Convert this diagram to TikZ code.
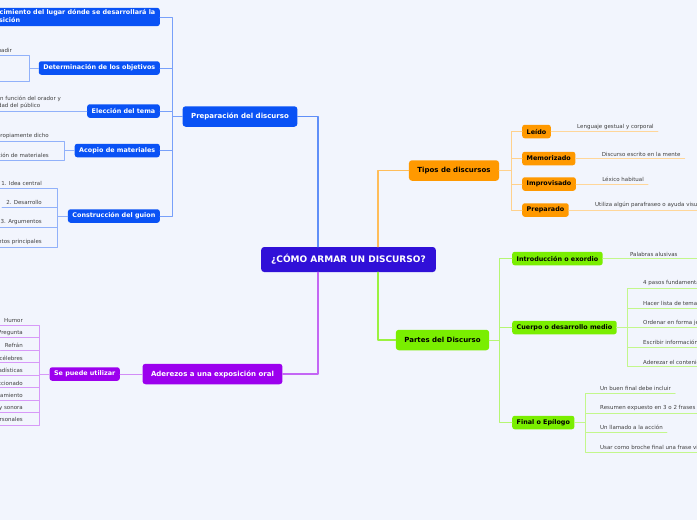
\documentclass[tikz,border=0pt]{standalone}
\usepackage{fontspec}
\setmainfont{DejaVu Sans}
\definecolor{paper}{RGB}{242,245,253}
\definecolor{rootfill}{RGB}{48,16,216}
\definecolor{prepblue}{RGB}{10,82,245}
\definecolor{tipoorange}{RGB}{255,153,0}
\definecolor{aderpurple}{RGB}{156,0,238}
\definecolor{partegreen}{RGB}{122,238,0}
\definecolor{leafgray}{RGB}{64,64,64}

\begin{document}
\begin{tikzpicture}[x=1pt,y=-1pt,line cap=round,line join=round,
  rootbox/.style={fill=rootfill,text=white,rounded corners=3pt,font=\fontsize{9}{10}\selectfont\bfseries,inner xsep=10pt,minimum height=25pt},
  topicbox/.style={rounded corners=3pt,font=\fontsize{7}{8}\selectfont\bfseries,inner xsep=8.5pt,minimum height=20.5pt},
  subbox/.style={rounded corners=2.5pt,font=\fontsize{6.4}{7.8}\selectfont\bfseries,inner xsep=4.5pt,inner ysep=2pt,minimum height=13.5pt},
  leafnote/.style={text=leafgray,font=\fontsize{5.5}{7}\selectfont,inner xsep=4pt,inner ysep=2pt},
  bluenode/.style={fill=prepblue,text=white},
  orangenode/.style={fill=tipoorange,text=black},
  purplenode/.style={fill=aderpurple,text=white},
  greennode/.style={fill=partegreen,text=black},
  trunk/.style={draw=#1,line width=1.3pt},
  branch/.style={draw=#1,line width=1pt},
  twig/.style={draw=#1,line width=.8pt}]
  \useasboundingbox (0,0) rectangle (697,520);
  \fill[paper] (0,0) rectangle (697,520);
  \clip (0,0) rectangle (697,520);

  \node[rootbox] (root) at (348.5,259.5) {¿CÓMO ARMAR UN DISCURSO?};

  \node[topicbox,bluenode] (prep) at (240,116.5) {Preparación del discurso};
  \node[topicbox,orangenode] (tipos) at (454,170.5) {Tipos de discursos};
  \node[topicbox,purplenode] (ader) at (212.5,374) {Aderezos a una exposición oral};
  \node[topicbox,greennode] (partes) at (442.5,340) {Partes del Discurso};

  \draw[trunk=prepblue!65] ([xshift=-30.5pt]root.north) |- (prep.east);
  \draw[trunk=tipoorange!65] ([xshift=29.5pt]root.north) |- (tipos.west);
  \draw[trunk=aderpurple!60] ([xshift=-30.5pt]root.south) |- (ader.east);
  \draw[trunk=partegreen!75] ([xshift=29.5pt]root.south) |- (partes.west);

  \node[subbox,bluenode,anchor=east,align=left] (conoc) at (160,17) {Conocimiento del lugar dónde se desarrollará la\\exposición};
  \node[subbox,bluenode,anchor=east] (objet) at (160,68) {Determinación de los objetivos};
  \node[subbox,bluenode,anchor=east] (tema) at (160,111) {Elección del tema};
  \node[subbox,bluenode,anchor=east] (acopio) at (160,150.5) {Acopio de materiales};
  \node[subbox,bluenode,anchor=east] (guion) at (160,216) {Construcción del guion};
  \foreach \n in {conoc,objet,tema,acopio,guion}
    \draw[branch=prepblue!55] (prep.west) -- ++(-10,0) |- (\n.east);

  \node[leafnote,anchor=south east] (persu) at (16,55) {Persuadir};
  \coordinate (objet2) at (-5,81);
  \foreach \n in {persu.south west,objet2}
    \draw[twig=prepblue!45] (objet.west) -- ++(-9,0) |- (\n);

  \node[leafnote,anchor=south east,align=left] (elegir) at (65,111) {Elegir en función del orador y\\de la edad del público};
  \draw[twig=prepblue!45] (tema.west) -- (elegir.south west);

  \node[leafnote,anchor=south east] (propio) at (53,141) {Material propiamente dicho};
  \node[leafnote,anchor=south east] (selec) at (53,160) {Selección de materiales};
  \foreach \n in {propio,selec}
    \draw[twig=prepblue!45] (acopio.west) -- ++(-10,0) |- (\n.south west);

  \node[leafnote,anchor=south east] (idea) at (46,188) {1. Idea central};
  \node[leafnote,anchor=south east] (desarr) at (46,207) {2. Desarrollo};
  \node[leafnote,anchor=south east] (argum) at (46,227) {3. Argumentos};
  \node[leafnote,anchor=south east] (puntos) at (46,247) {4. Puntos principales};
  \foreach \n in {idea,desarr,argum,puntos}
    \draw[twig=prepblue!45] (guion.west) -- ++(-10,0) |- (\n.south west);

  \node[subbox,orangenode,anchor=west] (leido) at (522,131.5) {Leído};
  \node[subbox,orangenode,anchor=west] (memor) at (522,158.5) {Memorizado};
  \node[subbox,orangenode,anchor=west] (improv) at (522,184) {Improvisado};
  \node[subbox,orangenode,anchor=west] (prepd) at (522,210) {Preparado};
  \foreach \n in {leido,memor,improv,prepd}
    \draw[branch=tipoorange!45] (tipos.east) -- ++(12,0) |- (\n.west);

  \node[leafnote,anchor=south west] (gestual) at ([xshift=22pt]leido.east) {Lenguaje gestual y corporal};
  \node[leafnote,anchor=south west] (mente) at ([xshift=22pt]memor.east) {Discurso escrito en la mente};
  \node[leafnote,anchor=south west] (lexico) at ([xshift=22pt]improv.east) {Léxico habitual};
  \node[leafnote,anchor=south west] (ayudav) at ([xshift=22pt]prepd.east) {Utiliza algún parafraseo o ayuda visual};
  \draw[twig=tipoorange!40] (leido.east) -- (gestual.south east);
  \draw[twig=tipoorange!40] (memor.east) -- (mente.south east);
  \draw[twig=tipoorange!40] (improv.east) -- (lexico.south east);
  \draw[twig=tipoorange!40] (prepd.east) -- (ayudav.south east);

  \node[subbox,purplenode,anchor=east] (util) at (120,374) {Se puede utilizar};
  \draw[branch=aderpurple!45] (ader.west) -- (util.east);
  \node[leafnote,anchor=south east] (humor) at (27,325) {Humor};
  \node[leafnote,anchor=south east] (pregun) at (27,337.5) {Pregunta};
  \node[leafnote,anchor=south east] (refran) at (27,350) {Refrán};
  \node[leafnote,anchor=south east] (citas) at (27,362.5) {Citas célebres};
  \node[leafnote,anchor=south east] (estad) at (27,375) {Estadísticas};
  \node[leafnote,anchor=south east] (dato) at (27,387.5) {Dato seleccionado};
  \node[leafnote,anchor=south east] (razon) at (27,400) {Razonamiento};
  \node[leafnote,anchor=south east] (ayuda) at (27,412.5) {Ayuda visual y sonora};
  \node[leafnote,anchor=south east] (anecd) at (27,425) {Anécdotas personales};
  \foreach \n in {humor,pregun,refran,citas,estad,dato,razon,ayuda,anecd}
    \draw[twig=aderpurple!40] (util.west) -- ++(-10,0) |- (\n.south west);

  \node[subbox,greennode,anchor=west] (intro) at (512,258.5) {Introducción o exordio};
  \node[subbox,greennode,anchor=west] (cuerpo) at (512,327.5) {Cuerpo o desarrollo medio};
  \node[subbox,greennode,anchor=west] (final) at (512,422.5) {Final o Epílogo};
  \foreach \n in {intro,cuerpo,final}
    \draw[branch=partegreen!55] (partes.east) -- ++(10,0) |- (\n.west);

  \node[leafnote,anchor=south west,text width=80pt,align=left] (alusiv) at ([xshift=23pt]intro.east) {Palabras alusivas};
  \draw[twig=partegreen!45] (intro.east) -- (alusiv.south east);

  \node[leafnote,anchor=south west] (pasos) at (639,288) {4 pasos fundamentales};
  \node[leafnote,anchor=south west] (lista) at (639,308) {Hacer lista de temas};
  \node[leafnote,anchor=south west] (orden) at (639,327.5) {Ordenar en forma jerárquica};
  \node[leafnote,anchor=south west] (escrib) at (639,347) {Escribir información};
  \node[leafnote,anchor=south west] (conten) at (639,366.5) {Aderezar el contenido};
  \foreach \n in {pasos,lista,orden,escrib,conten}
    \draw[twig=partegreen!45] (cuerpo.east) -- ++(10,0) |- (\n.south east);

  \node[leafnote,anchor=south west] (buen) at (596,393) {Un buen final debe incluir};
  \node[leafnote,anchor=south west] (resum) at (596,413) {Resumen expuesto en 3 o 2 frases};
  \node[leafnote,anchor=south west] (llama) at (596,432) {Un llamado a la acción};
  \node[leafnote,anchor=south west] (broche) at (596,452) {Usar como broche final una frase vibrante};
  \foreach \n in {buen,resum,llama,broche}
    \draw[twig=partegreen!45] (final.east) -- ++(11,0) |- (\n.south east);
\end{tikzpicture}
\end{document}
